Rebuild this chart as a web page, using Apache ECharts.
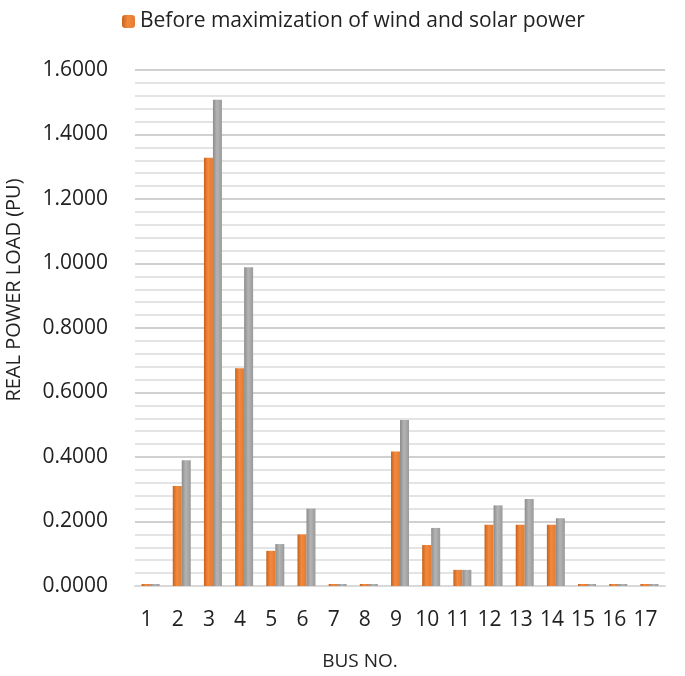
<!DOCTYPE html>
<html>
<head>
<meta charset="utf-8">
<script src="https://cdn.jsdelivr.net/npm/echarts@6/dist/echarts.min.js"></script>
<style>html,body{margin:0;padding:0;background:#fff}#c{width:685px;height:676px}</style>
</head>
<body>
<div id="c"></div>
<script>
const categories = ['1','2','3','4','5','6','7','8','9','10','11','12','13','14','15','16','17'];
const beforeValues = [0, 0.31, 1.328, 0.675, 0.109, 0.16, 0, 0, 0.417, 0.127, 0.05, 0.19, 0.19, 0.19, 0, 0, 0];
const afterValues  = [0, 0.39, 1.508, 0.988, 0.13, 0.24, 0, 0, 0.515, 0.18, 0.05, 0.25, 0.27, 0.21, 0, 0, 0];
const seriesNames = ['Before maximization of wind and solar power', 'After maximization of wind and solar power'];
const yTicks = [0, 0.2, 0.4, 0.6, 0.8, 1.0, 1.2, 1.4, 1.6];

const font = 'Open Sans';
const chart = echarts.init(document.getElementById('c'), null, {renderer: 'canvas'});
function grad(c1, c2, c3) {
  return new echarts.graphic.LinearGradient(0, 0, 1, 0, [
    {offset: 0, color: c1}, {offset: 0.45, color: c2}, {offset: 1, color: c3}
  ]);
}
chart.setOption({
  animation: false,
  legend: {
    data: [seriesNames[0]],
    top: 6, left: 117,
    itemWidth: 13, itemHeight: 13,
    itemGap: 6,
    textStyle: {fontFamily: font, fontSize: 21, color: '#222'}
  },
  grid: {left: 135, right: 20, top: 70, bottom: 90, outerBoundsMode: 'none', containLabel: false},
  xAxis: {
    type: 'category',
    data: categories,
    name: 'BUS NO.',
    nameLocation: 'middle',
    nameGap: 66,
    nameTextStyle: {fontFamily: font, fontSize: 19, color: '#222', padding: [0, 80, 0, 0]},
    axisTick: {show: false},
    axisLine: {lineStyle: {color: '#d9d9d9', width: 2}},
    axisLabel: {fontFamily: font, fontSize: 21, color: '#222', margin: 24, interval: 0, padding: [0, 8, 0, 0]}
  },
  yAxis: {
    type: 'value',
    min: yTicks[0], max: yTicks[yTicks.length - 1], interval: 0.2,
    name: 'REAL POWER LOAD (PU)',
    nameLocation: 'middle',
    nameGap: 111,
    nameTextStyle: {fontFamily: font, fontSize: 20, color: '#222', padding: [0, 0, 0, 76]},
    axisLine: {show: false},
    axisTick: {show: false},
    axisLabel: {fontFamily: font, fontSize: 21, color: '#222', margin: 27, formatter: v => v.toFixed(4)},
    splitLine: {lineStyle: {color: '#d0d0d0', width: 2}},
    minorTick: {show: false, splitNumber: 5},
    minorSplitLine: {show: true, lineStyle: {color: '#e4e4e4', width: 2}}
  },
  series: [
    {
      name: seriesNames[0], type: 'bar', data: beforeValues,
      barWidth: 9, barGap: '0%', barMinHeight: 2,
      itemStyle: {color: grad('#c9611c', '#f28a3e', '#e47a30')}
    },
    {
      name: seriesNames[1], type: 'bar', data: afterValues,
      barWidth: 9, barGap: '0%', barMinHeight: 2,
      itemStyle: {color: grad('#8c8c8c', '#b4b4b4', '#9a9a9a')}
    }
  ]
});
</script>
</body>
</html>
